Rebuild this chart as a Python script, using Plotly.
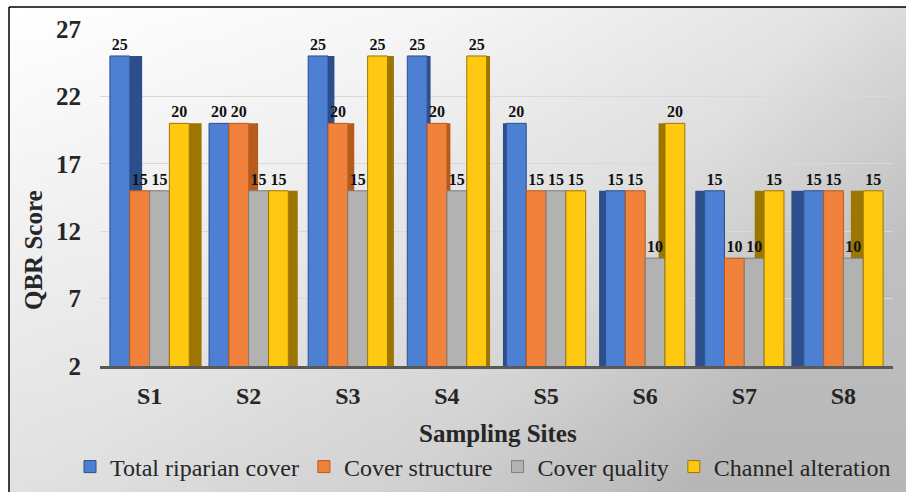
import base64
import plotly.graph_objects as go

# QBR index components per sampling site
sites = ["S1", "S2", "S3", "S4", "S5", "S6", "S7", "S8"]
total_riparian_cover = [25, 20, 25, 25, 20, 15, 15, 15]
cover_structure = [15, 20, 20, 20, 15, 15, 10, 15]
cover_quality = [15, 15, 15, 15, 15, 10, 10, 10]
channel_alteration = [20, 15, 25, 25, 15, 20, 15, 15]
y_ticks = [2, 7, 12, 17, 22, 27]

series = [
    ("Total riparian cover", total_riparian_cover, "#4d7fd2", "#2c4f8c"),
    ("Cover structure", cover_structure, "#f0823b", "#b85a1c"),
    ("Cover quality", cover_quality, "#b2b2b2", "#7e7e7e"),
    ("Channel alteration", channel_alteration, "#ffc811", "#9c7600"),
]

W, H = 906, 492
ML, MR, MT, MB = 100, 13, 29, 126
PW, PH = W - ML - MR, H - MT - MB


def px_x(px):
    return (px - ML) / PW


def px_y(py):
    return (H - MB - py) / PH


FONT = "Liberation Serif"
BAR_W = 0.2
n = len(sites)
# depth of the side face grows away from the chart centre (perspective look)
depth = [0.02 + 0.03 * abs(i - (n - 1) / 2) for i in range(n)]

fig = go.Figure()

# side faces first, so the front faces of neighbouring bars sit on top
for k, (name, vals, front, side) in enumerate(series):
    base_off = -0.4 + k * BAR_W
    offs, widths = [], []
    for i in range(n):
        if i < n / 2:
            offs.append(base_off + BAR_W)
        else:
            offs.append(base_off - depth[i])
        widths.append(depth[i])
    fig.add_trace(go.Bar(
        x=sites, y=vals, offset=offs, width=widths,
        marker=dict(color=side, line=dict(width=0)),
        showlegend=False, hoverinfo="skip",
    ))

for k, (name, vals, front, side) in enumerate(series):
    fig.add_trace(go.Bar(
        x=sites, y=vals, name=name,
        offset=-0.4 + k * BAR_W, width=BAR_W,
        marker=dict(color=front, line=dict(color=side, width=1)),
        texttemplate="%{y}", textposition="outside", constraintext="none",
        textfont=dict(family=FONT, size=16, color="#111111", weight="bold"),
        cliponaxis=False,
    ))

# soft grey backdrop inside the frame
svg = f"""<svg xmlns='http://www.w3.org/2000/svg' width='{W}' height='{H}' preserveAspectRatio='none' viewBox='0 0 {W} {H}'>
<defs>
<linearGradient id='g' x1='0' y1='0' x2='1' y2='0.45'>
<stop offset='0' stop-color='#ffffff'/>
<stop offset='0.4' stop-color='#f6f6f6'/>
<stop offset='0.75' stop-color='#e4e4e4'/>
<stop offset='1' stop-color='#c9c9c9'/>
</linearGradient>
<linearGradient id='v' x1='0' y1='0' x2='0' y2='1'>
<stop offset='0' stop-color='#000000' stop-opacity='0'/>
<stop offset='1' stop-color='#000000' stop-opacity='0.09'/>
</linearGradient>
</defs>
<rect width='{W}' height='{H}' fill='url(#g)'/>
<rect width='{W}' height='{H}' fill='url(#v)'/>
</svg>"""
src = "data:image/svg+xml;base64," + base64.b64encode(svg.encode()).decode()

fig.add_layout_image(
    source=src, xref="paper", yref="paper",
    x=px_x(9), y=px_y(7), sizex=(W - 9) / PW, sizey=(H - 7) / PH,
    xanchor="left", yanchor="top", sizing="stretch", layer="below",
)

# outer frame (top and left edges)
fig.add_shape(type="line", xref="paper", yref="paper",
              x0=px_x(9), x1=px_x(W), y0=px_y(7), y1=px_y(7),
              line=dict(color="#000000", width=1.5))
fig.add_shape(type="line", xref="paper", yref="paper",
              x0=px_x(9), x1=px_x(9), y0=px_y(7), y1=px_y(H),
              line=dict(color="#000000", width=1.5))

fig.add_annotation(
    text="QBR Score", xref="paper", yref="paper",
    x=px_x(33), y=px_y(250), xanchor="center", yanchor="middle",
    textangle=-90, showarrow=False,
    font=dict(family=FONT, size=25, color="#262626", weight="bold"),
)
fig.add_annotation(
    text="Sampling Sites", xref="paper", yref="paper",
    x=px_x(498), y=px_y(433), xanchor="center", yanchor="middle",
    showarrow=False,
    font=dict(family=FONT, size=25, color="#262626", weight="bold"),
)

fig.update_layout(
    width=W, height=H,
    margin=dict(l=ML, r=MR, t=MT, b=MB, pad=0, autoexpand=False),
    barmode="overlay",
    paper_bgcolor="#ffffff",
    plot_bgcolor="rgba(0,0,0,0)",
    font=dict(family=FONT, color="#262626"),
    showlegend=True,
    legend=dict(
        orientation="h", xref="paper", yref="paper",
        x=px_x(70), y=px_y(467),
        xanchor="left", yanchor="middle",
        font=dict(family=FONT, size=24, color="#262626"),
        itemwidth=30, bgcolor="rgba(0,0,0,0)", traceorder="normal",
        tracegroupgap=0,
    ),
    xaxis=dict(
        type="category", range=[-0.5, n - 0.5], automargin=False,
        showline=True, linecolor="#595959", linewidth=3,
        showgrid=False, ticks="",
        tickfont=dict(family=FONT, size=24, color="#262626", weight="bold"),
        ticklabelstandoff=6,
    ),
    yaxis=dict(
        range=[2, 27], tickvals=y_ticks, ticktext=[str(v) for v in y_ticks],
        automargin=False,
        showgrid=True, gridcolor="#d9d9d9", gridwidth=1,
        zeroline=False, showline=False, ticks="",
        tickfont=dict(family=FONT, size=25, color="#262626", weight="bold"),
        ticklabelstandoff=18,
    ),
)

fig.write_html("out.html")
